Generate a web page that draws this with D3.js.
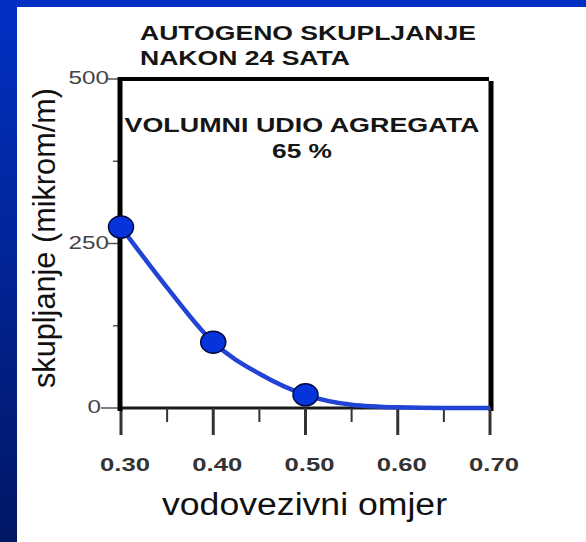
<!DOCTYPE html>
<html>
<head>
<meta charset="utf-8">
<script src="https://cdn.jsdelivr.net/npm/d3@7"></script>
<style>
	body { margin: 0; background: #fff; }
	text { font-family: "Liberation Sans", Arial, sans-serif; }
</style>
</head>
<body>
<div id="chart"></div>
<script>
// podaci
var tickValues = [0.30, 0.35, 0.40, 0.45, 0.50, 0.55, 0.60, 0.65, 0.70];
var tickLabels = ["0.30", "0.40", "0.50", "0.60", "0.70"];
var yTicks = [0, 125, 250, 375, 500];
var yTickLabels = ["0", "250", "500"];
var omjer = [0.30, 0.40, 0.50];           // izmjerene tocke
var skupljanje = [275, 100, 20];
var curveX = [0.30, 0.35, 0.40, 0.45, 0.50, 0.55, 0.60, 0.65, 0.70];
var curveY = [275, 183, 100, 52, 20, 5, 1, 0, 0];
var titleLines = ["AUTOGENO SKUPLJANJE", "NAKON 24 SATA"];
var noteLines = ["VOLUMNI UDIO AGREGATA", "65 %"];

paintChart();

function paintChart() {
	var width = 586,
		height = 542;
	var svg = d3.select("#chart").append("svg")
		.attr("width", width)
		.attr("height", height);

	// plava pozadina slajda
	var grad = svg.append("defs").append("linearGradient")
		.attr("id", "bg").attr("x1", 0).attr("y1", 0).attr("x2", 0).attr("y2", 1);
	grad.append("stop").attr("offset", "0%").attr("stop-color", "#0230c4");
	grad.append("stop").attr("offset", "100%").attr("stop-color", "#001764");
	svg.append("rect").attr("width", width).attr("height", height).attr("fill", "url(#bg)");
	svg.append("rect").attr("x", 17).attr("y", 7)
		.attr("width", width - 17).attr("height", height - 7).attr("fill", "#fff");

	var x = d3.scaleLinear().domain([0.30, 0.70]).range([121, 490]);
	var y = d3.scaleLinear().domain([0, 500]).range([408, 79]);

	// naslov
	svg.selectAll("text.title")
		.data(titleLines)
		.enter().append("text")
		.attr("class", "title")
		.attr("x", 140)
		.attr("y", function(d, i) { return 40 + i * 25; })
		.attr("textLength", function(d, i) { return i === 0 ? 336 : 210; })
		.attr("lengthAdjust", "spacingAndGlyphs")
		.attr("font-size", 20).attr("font-weight", "bold").attr("fill", "#151515")
		.text(function(d) { return d; });

	// okvir
	svg.append("line").attr("x1", 118).attr("x2", 489).attr("y1", 79).attr("y2", 79)
		.attr("stroke", "#000").attr("stroke-width", 4);
	svg.append("line").attr("x1", 491).attr("x2", 491).attr("y1", 81).attr("y2", 411)
		.attr("stroke", "#000").attr("stroke-width", 5);
	svg.append("line").attr("x1", 120).attr("x2", 491).attr("y1", 408).attr("y2", 408)
		.attr("stroke", "#1a1a1a").attr("stroke-width", 3);

	// x os - crtice
	svg.selectAll("line.xtick")
		.data(tickValues)
		.enter().append("line")
		.attr("class", "xtick")
		.attr("x1", function(d) { return x(d); })
		.attr("x2", function(d) { return x(d); })
		.attr("y1", 408)
		.attr("y2", function(d, i) { return i % 2 === 0 ? 435 : 422; })
		.attr("stroke", "#333")
		.attr("stroke-width", function(d, i) { return i % 2 === 0 ? 3 : 2; });

	svg.selectAll("text.xlabel")
		.data(tickLabels)
		.enter().append("text")
		.attr("class", "xlabel")
		.attr("x", function(d) { return x(+d) + 4; })
		.attr("y", 471)
		.attr("text-anchor", "middle")
		.attr("textLength", 50)
		.attr("lengthAdjust", "spacingAndGlyphs")
		.attr("font-size", 19).attr("font-weight", "bold").attr("fill", "#333")
		.text(function(d) { return d; });

	// y os - crtice
	svg.selectAll("line.ytick")
		.data(yTicks)
		.enter().append("line")
		.attr("class", "ytick")
		.attr("x1", function(d) { return d === 0 ? 101 : (d % 250 === 0 ? 108 : 113); })
		.attr("x2", 119)
		.attr("y1", function(d) { return y(d); })
		.attr("y2", function(d) { return y(d); })
		.attr("stroke", "#555").attr("stroke-width", 1.5);

	svg.selectAll("text.ylabel")
		.data(yTickLabels)
		.enter().append("text")
		.attr("class", "ylabel")
		.attr("x", function(d) { return d === "0" ? 101 : 109; })
		.attr("y", function(d) { return y(+d) + 5; })
		.attr("text-anchor", "end")
		.attr("textLength", function(d) { return d.length * 13.5; })
		.attr("lengthAdjust", "spacingAndGlyphs")
		.attr("font-size", 18).attr("fill", "#444")
		.text(function(d) { return d; });

	svg.append("line").attr("x1", 120).attr("x2", 120).attr("y1", 77).attr("y2", 411)
		.attr("stroke", "#000").attr("stroke-width", 5);

	// tekst u grafu
	svg.selectAll("text.note")
		.data(noteLines)
		.enter().append("text")
		.attr("class", "note")
		.attr("x", 302)
		.attr("y", function(d, i) { return 132 + i * 26; })
		.attr("text-anchor", "middle")
		.attr("textLength", function(d, i) { return i === 0 ? 355 : 60; })
		.attr("lengthAdjust", "spacingAndGlyphs")
		.attr("font-size", 21).attr("font-weight", "bold").attr("fill", "#151515")
		.text(function(d) { return d; });

	// krivulja
	var line = d3.line()
		.x(function(d, i) { return x(curveX[i]); })
		.y(function(d) { return y(d); })
		.curve(d3.curveMonotoneX);
	svg.append("path")
		.datum(curveY)
		.attr("d", line)
		.attr("fill", "none")
		.attr("stroke", "#2244d4")
		.attr("stroke-width", 4.5);

	svg.selectAll("ellipse")
		.data(skupljanje)
		.enter().append("ellipse")
		.attr("cx", function(d, i) { return x(omjer[i]); })
		.attr("cy", function(d) { return y(d); })
		.attr("rx", 12.5).attr("ry", 11)
		.attr("fill", "#0634dc")
		.attr("stroke", "#00093a").attr("stroke-width", 1.5);

	// nazivi osi
	svg.append("text")
		.attr("x", 162).attr("y", 515)
		.attr("textLength", 285)
		.attr("lengthAdjust", "spacingAndGlyphs")
		.attr("font-size", 31).attr("fill", "#111")
		.text("vodovezivni omjer");

	svg.append("text")
		.attr("transform", "translate(55,238) rotate(-90)")
		.attr("text-anchor", "middle")
		.attr("textLength", 300)
		.attr("lengthAdjust", "spacingAndGlyphs")
		.attr("font-size", 31).attr("fill", "#111")
		.text("skupljanje (mikrom/m)");
}
</script>
</body>
</html>
